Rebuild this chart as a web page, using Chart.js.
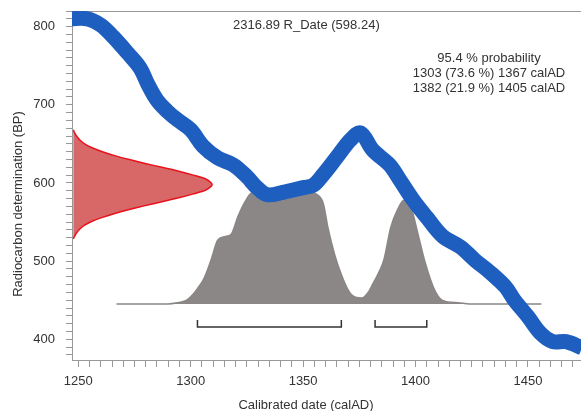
<!DOCTYPE html>
<html>
<head>
<meta charset="utf-8">
<script src="https://cdn.jsdelivr.net/npm/chart.js@4.4.0/dist/chart.umd.min.js"></script>
<style>
  body { margin: 0; background: #fff; }
  #wrap { width: 581px; height: 411px; }
</style>
</head>
<body>
<div id="wrap"><canvas id="graph_canva" width="581" height="411"></canvas></div>
<script>
/** DEPENDS ON chart.js (CDN) */

// Calibration curve, centre of the blue band (calAD / BP)
var curve_years = [1246, 1254, 1260, 1265.5, 1272, 1277.5, 1281, 1285, 1289.5, 1294, 1300, 1305.5, 1312, 1319, 1325, 1329.5, 1334, 1341, 1350, 1354.5, 1359, 1365, 1371, 1375.5, 1381, 1388.5, 1393, 1399, 1405, 1412, 1420, 1426.5, 1433, 1440, 1444, 1450, 1455.5, 1461, 1467, 1474];
var curve_bp = [810, 810, 802, 787, 766, 747, 726, 706, 692, 681, 668, 647, 632, 623, 608, 594, 585, 588, 594, 597, 611, 633, 655, 664, 642, 623, 604, 578, 556, 532, 518, 501, 486, 467, 450, 429, 408, 397, 397, 389];

// Radiocarbon measurement (red curve on the y axis): BP and how far it reaches along x
var rdate_bp = [668, 665, 660, 655, 650, 645, 640, 635, 630, 625, 620, 615, 610, 605, 600, 598, 596, 591, 586, 581, 576, 571, 566, 561, 556, 551, 546, 541, 536, 531, 528.5];
var rdate_x = [1247.8, 1248.2, 1249.2, 1250.7, 1252.8, 1256.1, 1260.7, 1266.2, 1272.7, 1279.7, 1287.2, 1294.7, 1301.2, 1306.7, 1309.2, 1309.5, 1309.2, 1306.7, 1301.2, 1294.7, 1287.2, 1279.7, 1272.7, 1266.2, 1260.7, 1256.1, 1252.8, 1250.7, 1249.2, 1248.2, 1247.8];

// Calibrated probability (grey), relative height
var prob_years = [1267, 1280, 1290, 1294, 1298, 1300, 1303, 1306, 1309, 1312, 1315, 1318, 1321, 1324, 1327, 1330, 1335, 1340, 1345, 1350, 1354, 1356, 1359, 1361, 1364, 1367, 1370, 1372, 1376, 1379, 1381, 1384, 1386, 1389, 1392, 1395, 1398, 1401, 1404, 1408, 1412, 1419, 1424, 1435, 1456];
var prob_values = [0, 0, 0, 0.01, 0.03, 0.06, 0.13, 0.22, 0.37, 0.54, 0.57, 0.59, 0.74, 0.86, 0.94, 0.95, 0.96, 0.96, 0.96, 0.96, 0.95, 0.93, 0.85, 0.65, 0.42, 0.25, 0.12, 0.07, 0.05, 0.10, 0.17, 0.28, 0.38, 0.65, 0.80, 0.88, 0.82, 0.60, 0.37, 0.14, 0.03, 0.01, 0, 0, 0];

// 95.4 % ranges
var range_from = [1303, 1382];
var range_to = [1367, 1405];
var range_pct = ['73.6', '21.9'];

var sample_title = '2316.89 R_Date (598.24)';

// Axis bounds
var x_min = 1247.2, x_max = 1473.6;
var y_min = 373.5, y_max = 820;

// Where the grey distribution and brackets sit on the BP axis
var prob_base = 445.2, prob_scale = 151;
var bracket_bp = 415.7, bracket_tick = 9;

Chart.defaults.font.family = 'Arial, "Liberation Sans", sans-serif';
Chart.defaults.font.size = 13;
Chart.defaults.color = '#333';

// Free text: sample name, ranges and axis titles
var text_plugin = {
    id: 'oxcal_text',
    afterDraw: function( chart ){
        var ctx = chart.ctx;
        ctx.save();
        ctx.fillStyle = '#333';
        ctx.font = '13px Arial, "Liberation Sans", sans-serif';
        ctx.textBaseline = 'middle';

        ctx.textAlign = 'left';
        ctx.fillText( sample_title, 233, 25 );

        ctx.textAlign = 'center';
        ctx.fillText( '95.4 % probability', 489, 58 );
        for( var i = 0; i < range_from.length; i++ ){
            ctx.fillText( range_from[i] + ' (' + range_pct[i] + ' %) ' + range_to[i] + ' calAD', 489, 73.5 + i * 15 );
        }

        ctx.fillText( 'Calibrated date (calAD)', 306, 405 );

        ctx.translate( 18, 204 );
        ctx.rotate( -Math.PI / 2 );
        ctx.fillText( 'Radiocarbon determination (BP)', 0, 0 );
        ctx.restore();
    }
};

function graph_draw(){

    var ctx = document.getElementById('graph_canva').getContext('2d');

    var datasets = [];

    // calibration curve
    datasets.push({
        label: 'curve',
        data: curve_years.map(function( yr, i ){ return { x: yr, y: curve_bp[i] }; }),
        borderColor: 'rgb(30, 94, 190)',
        borderWidth: 15,
        borderJoinStyle: 'round',
        tension: 0.35,
        pointRadius: 0,
        fill: false,
        clip: 0,
        order: 0
    });

    // measured date on the y axis (closed shape against the axis)
    datasets.push({
        label: 'rdate',
        data: rdate_bp.map(function( bp, i ){ return { x: rdate_x[i], y: bp }; }),
        borderColor: 'rgb(232, 18, 28)',
        borderWidth: 1.5,
        backgroundColor: 'rgb(216, 104, 104)',
        tension: 0.3,
        pointRadius: 0,
        fill: 'shape',
        order: 1
    });

    // calibrated distribution
    datasets.push({
        label: 'prob',
        data: prob_years.map(function( yr, i ){ return { x: yr, y: prob_base + prob_values[i] * prob_scale }; }),
        borderColor: 'rgb(138, 134, 134)',
        borderWidth: 1.5,
        backgroundColor: 'rgb(140, 135, 135)',
        cubicInterpolationMode: 'monotone',
        pointRadius: 0,
        fill: { value: prob_base },
        order: 3
    });

    // range brackets
    for( var i = 0; i < range_from.length; i++ ){
        datasets.push({
            label: 'range' + i,
            data: [
                { x: range_from[i], y: bracket_bp + bracket_tick },
                { x: range_from[i], y: bracket_bp },
                { x: range_to[i], y: bracket_bp },
                { x: range_to[i], y: bracket_bp + bracket_tick }
            ],
            borderColor: '#333',
            borderWidth: 1.5,
            pointRadius: 0,
            fill: false,
            order: 2
        });
    }

    new Chart( ctx, {
        type: 'line',
        data: { datasets: datasets },
        options: {
            responsive: false,
            animation: false,
            layout: { padding: { top: 11, left: 0, right: 0, bottom: 0 } },
            plugins: {
                legend: { display: false },
                tooltip: { enabled: false },
                title: { display: false }
            },
            scales: {
                x: {
                    type: 'linear',
                    position: 'bottom',
                    min: x_min,
                    max: x_max,
                    afterFit: function( scale ){ scale.height = 51; },
                    grid: { display: true, drawOnChartArea: false, drawTicks: true, tickLength: 7, color: '#999' },
                    border: { display: true, color: '#999' },
                    ticks: {
                        stepSize: 5,
                        includeBounds: false,
                        autoSkip: false,
                        maxRotation: 0,
                        padding: 7,
                        color: '#333',
                        callback: function( v ){ return Math.round( v ) % 50 === 0 ? String( Math.round( v ) ) : ''; }
                    }
                },
                xTop: {
                    type: 'linear',
                    position: 'top',
                    min: x_min,
                    max: x_max,
                    afterFit: function( scale ){ scale.height = 0; },
                    grid: { display: false, drawTicks: false },
                    border: { display: true, color: '#999' },
                    ticks: { display: false }
                },
                y: {
                    type: 'linear',
                    min: y_min,
                    max: y_max,
                    // fixed width, and no extra room for the end labels
                    afterFit: function( scale ){
                        scale.width = 72;
                        scale.paddingTop = 0;
                        scale.paddingBottom = 0;
                    },
                    grid: { display: true, drawOnChartArea: false, drawTicks: true, tickLength: 6, color: '#999' },
                    border: { display: true, color: '#999' },
                    ticks: {
                        stepSize: 10,
                        includeBounds: false,
                        autoSkip: false,
                        padding: 11,
                        color: '#333',
                        callback: function( v ){ return Math.round( v ) % 100 === 0 ? String( Math.round( v ) ) : ''; }
                    }
                }
            }
        },
        plugins: [ text_plugin ]
    });

}

graph_draw();
</script>
</body>
</html>
